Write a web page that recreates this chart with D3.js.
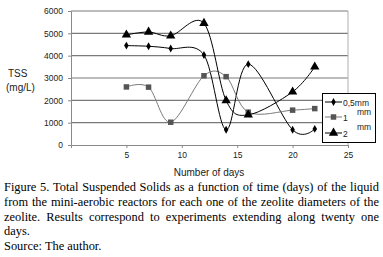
<!DOCTYPE html>
<html>
<head>
<meta charset="utf-8">
<script src="https://cdn.jsdelivr.net/npm/d3@7"></script>
<style>
  body { margin: 0; background: #fff; }
  svg { display: block; }
</style>
</head>
<body>
<div id="chart"></div>
<script>
const days = [5, 7, 9, 12, 14, 16, 20, 22];
const tss_05mm = [4450, 4420, 4320, 4030, 680, 3620, 680, 720];
const tss_1mm = [2600, 2590, 1020, 3100, 3060, 1470, 1560, 1630];
const tss_2mm = [4930, 5060, 4890, 5450, 1990, 1350, 2380, 3500];
const seriesNames = ["0,5mm", "1", "2"];
const yTicks = [0, 1000, 2000, 3000, 4000, 5000, 6000];
const xTicks = [5, 10, 15, 20, 25];
const captionLines = [
    "Figure 5. Total Suspended Solids as a function of time (days) of the liquid",
    "from the mini-aerobic reactors for each one of the zeolite diameters of the",
    "zeolite. Results correspond to experiments extending along twenty one",
    "days.",
    "Source: The author."
];

const W = 383, H = 257;
const svg = d3.select("#chart").append("svg")
    .attr("width", W)
    .attr("height", H);

const x = d3.scaleLinear().domain([0, 25]).range([71, 348]);
const y = d3.scaleLinear().domain([0, 6000]).range([145, 11]);
const sans = "'Liberation Sans', Arial, sans-serif";

// gridlines
svg.append("g")
    .selectAll("line")
    .data(yTicks.filter(d => d > 0))
    .join("line")
    .attr("x1", x(0)).attr("x2", x(25))
    .attr("y1", d => y(d)).attr("y2", d => y(d))
    .attr("stroke", "#7a7a7a")
    .attr("stroke-width", 1.1);

// right border
svg.append("line")
    .attr("x1", x(25)).attr("x2", x(25))
    .attr("y1", y(6000)).attr("y2", y(0))
    .attr("stroke", "#b0b0b0");

// axes
const yAxis = svg.append("g")
    .attr("transform", `translate(${x(0)},0)`)
    .call(d3.axisLeft(y).tickValues(yTicks).tickFormat(d3.format("d")).tickSize(3).tickPadding(5));
const xAxis = svg.append("g")
    .attr("transform", `translate(0,${y(0)})`)
    .call(d3.axisBottom(x).tickValues(xTicks).tickFormat(d3.format("d")).tickSize(3).tickPadding(4));
[yAxis, xAxis].forEach(a => {
    a.select(".domain").attr("stroke", "#8a8a8a");
    a.selectAll(".tick line").attr("stroke", "#8a8a8a");
    a.selectAll("text").attr("font-family", sans).attr("font-size", "8.5px").attr("fill", "#222");
});

// axis titles
svg.append("text").attr("x", 8).attr("y", 77)
    .attr("font-family", sans).attr("font-size", "10px").attr("fill", "#222").text("TSS");
svg.append("text").attr("x", 6).attr("y", 91)
    .attr("font-family", sans).attr("font-size", "10px").attr("fill", "#222").text("(mg/L)");
svg.append("text").attr("x", 209).attr("y", 176).attr("text-anchor", "middle")
    .attr("font-family", sans).attr("font-size", "10px").attr("fill", "#222").text("Number of days");

const line = d3.line()
    .x(d => x(d[0]))
    .y(d => y(d[1]))
    .curve(d3.curveCardinal.tension(0));

const series = [
    {values: tss_05mm, color: "#000", marker: d3.symbolDiamond, size: 18, mcolor: "#000"},
    {values: tss_1mm, color: "#7a7a7a", marker: d3.symbolSquare, size: 30, mcolor: "#555"},
    {values: tss_2mm, color: "#000", marker: d3.symbolTriangle, size: 38, mcolor: "#000"}
];

series.forEach(s => {
    const pts = days.map((d, i) => [d, s.values[i]]);
    svg.append("path")
        .datum(pts)
        .attr("fill", "none")
        .attr("stroke", s.color)
        .attr("stroke-width", 1)
        .attr("d", line);
    svg.append("g")
        .selectAll("path")
        .data(pts)
        .join("path")
        .attr("transform", d => `translate(${x(d[0])},${y(d[1])})`)
        .attr("d", d3.symbol().type(s.marker).size(s.size))
        .attr("fill", s.mcolor);
});

// legend
const lg = svg.append("g");
lg.append("rect")
    .attr("x", 322.5).attr("y", 93.5).attr("width", 53).attr("height", 49)
    .attr("fill", "#fff").attr("stroke", "#000");
const legY = [102, 117, 133];
series.forEach((s, i) => {
    lg.append("line")
        .attr("x1", 325).attr("x2", 342)
        .attr("y1", legY[i]).attr("y2", legY[i])
        .attr("stroke", s.color);
    lg.append("path")
        .attr("transform", `translate(333.5,${legY[i]})`)
        .attr("d", d3.symbol().type(s.marker).size(s.size))
        .attr("fill", s.mcolor);
    lg.append("text")
        .attr("x", 343).attr("y", legY[i] + 3.5)
        .attr("font-family", sans).attr("font-size", "8.5px").attr("fill", "#222")
        .text(seriesNames[i]);
});
[115, 130].forEach(yy => {
    lg.append("text")
        .attr("x", 357).attr("y", yy)
        .attr("font-family", sans).attr("font-size", "8.5px").attr("fill", "#222")
        .text("mm");
});

// caption, justified word by word
const serif = "'Liberation Serif', 'Times New Roman', serif";
const capLeft = 4, capRight = 379;
captionLines.forEach((txt, li) => {
    const words = txt.split(" ");
    const ly = 191 + li * 14.8;
    const nodes = words.map(w => svg.append("text")
        .attr("y", ly)
        .attr("font-family", serif)
        .attr("font-size", "12.4px")
        .attr("fill", "#000")
        .text(w));
    const widths = nodes.map(n => n.node().getComputedTextLength());
    const total = d3.sum(widths);
    const justify = li < 3;
    const gap = justify ? (capRight - capLeft - total) / (words.length - 1) : 3.1;
    let cx = capLeft;
    nodes.forEach((n, i) => {
        n.attr("x", cx);
        cx += widths[i] + gap;
    });
});
</script>
</body>
</html>
